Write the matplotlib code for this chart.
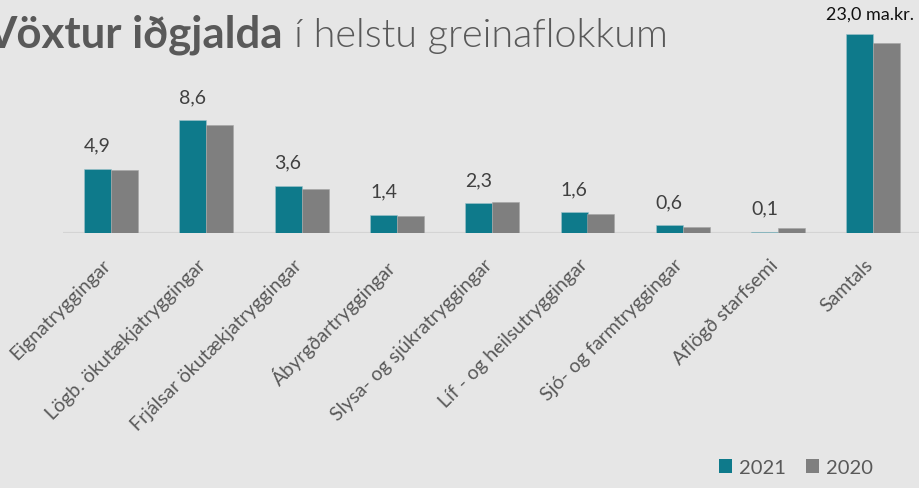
"""
Vöxtur iðgjalda í helstu greinaflokkum — 2021 vs 2020 (grouped bars,
Samtals drawn on its own secondary scale).
"""

import numpy as np
import matplotlib
matplotlib.use("Agg")
import matplotlib.pyplot as plt
from matplotlib.patches import Patch
from matplotlib.transforms import ScaledTranslation

# ── data ────────────────────────────────────────────────────────────────
categories = [
    "Eignatryggingar",
    "Lögb. ökutækjatryggingar",
    "Frjálsar ökutækjatryggingar",
    "Ábyrgðartryggingar",
    "Slysa- og sjúkratryggingar",
    "Líf - og heilsutryggingar",
    "Sjó- og farmtryggingar",
    "Aflögð starfsemi",
]
total_label = "Samtals"
v2021 = [4.9, 8.6, 3.6, 1.4, 2.3, 1.6, 0.6, 0.1]
v2020 = [4.8, 8.2, 3.4, 1.35, 2.4, 1.5, 0.5, 0.4]
total_2021 = 23.0
total_2020 = 22.0
series_names = ["2021", "2020"]

# ── style ───────────────────────────────────────────────────────────────
BG     = "#E6E6E6"
TEAL   = "#0E7A8B"
GREY   = "#7F7F7F"
TXT    = "#595959"
FONT   = ["Lato", "DejaVu Sans"]

plt.rcParams.update({
    "font.family": FONT,
    "axes.facecolor": BG,
    "figure.facecolor": BG,
})

W, H = 919, 489
fig = plt.figure(figsize=(W / 100, H / 100), dpi=100)

# axes placed in pixels: category axis 63 → 921 px, baseline at 234 px
left_px, base_px, cat_px = 63.35, 234.3, 95.3
n = len(categories) + 1
ax = fig.add_axes([left_px / W, (H - base_px) / H, n * cat_px / W, 210.4 / H])
ax2 = ax.twinx()

x = np.arange(len(categories))
bw = 0.283
ax.bar(x - bw / 2, v2021, bw, color=TEAL, edgecolor="#9FC4CA", linewidth=0.4)
ax.bar(x + bw / 2, v2020, bw, color=GREY, edgecolor="#A5A5A5", linewidth=0.4)
ax2.bar([n - 1 - bw / 2], [total_2021], bw, color=TEAL, edgecolor="#9FC4CA", linewidth=0.4)
ax2.bar([n - 1 + bw / 2], [total_2020], bw, color=GREY, edgecolor="#A5A5A5", linewidth=0.4)

ax.set_xlim(-0.5, n - 0.5)
ax.set_ylim(0, 16)
ax2.set_ylim(0, 24.27)

# value labels above the 2021 bars
for xi, v in zip(x, v2021):
    ax.annotate(f"{v:.1f}".replace(".", ","), (xi - bw / 2, v),
                xytext=(0, 17), textcoords="offset points",
                ha="center", va="center", fontsize=14, color="#404040")
ax2.annotate(f"{total_2021:.1f}".replace(".", ",") + " ma.kr.", (n - 1.04, total_2021),
             xytext=(0, 14.5), textcoords="offset points",
             ha="center", va="center", fontsize=13, color="#111111")

# category labels
ax.set_xticks(list(x) + [n - 1])
ax.set_xticklabels(categories + [total_label], rotation=45, ha="right", va="top",
                   fontsize=14, color=TXT)
ax.tick_params(axis="x", length=0, pad=16)
shift = ScaledTranslation(3 / 100, 0, fig.dpi_scale_trans)
for lab in ax.get_xticklabels():
    lab.set_transform(lab.get_transform() + shift)

for a in (ax, ax2):
    a.set_yticks([])
    for sp in a.spines.values():
        sp.set_visible(False)
ax.axhline(0, color="#D4D4D4", lw=1.6, zorder=0.5)

# ── title (bold + light part) ───────────────────────────────────────────
t1 = fig.text(-14 / W, 1 - 47.3 / H, "Vöxtur iðgjalda", fontsize=31.5,
              fontweight="bold", color=TXT, va="baseline", ha="left")
fig.canvas.draw()
bb = t1.get_window_extent()
fig.text((bb.x1 + 11) / W, 1 - 47.3 / H, "í helstu greinaflokkum", fontsize=28.5,
         fontweight=300, color=TXT, va="baseline", ha="left")

# ── legend ──────────────────────────────────────────────────────────────
handles = [Patch(facecolor=TEAL, edgecolor="none"), Patch(facecolor=GREY, edgecolor="none")]
fig.legend(handles, series_names, loc="lower right", bbox_to_anchor=(885 / W, 0 / H),
           ncol=2, frameon=False, fontsize=14.5, handlelength=0.65, handleheight=0.7,
           handletextpad=0.35, columnspacing=1.0, labelcolor=TXT, borderaxespad=0.2)

fig.savefig("out.png", dpi=100, facecolor=BG)
